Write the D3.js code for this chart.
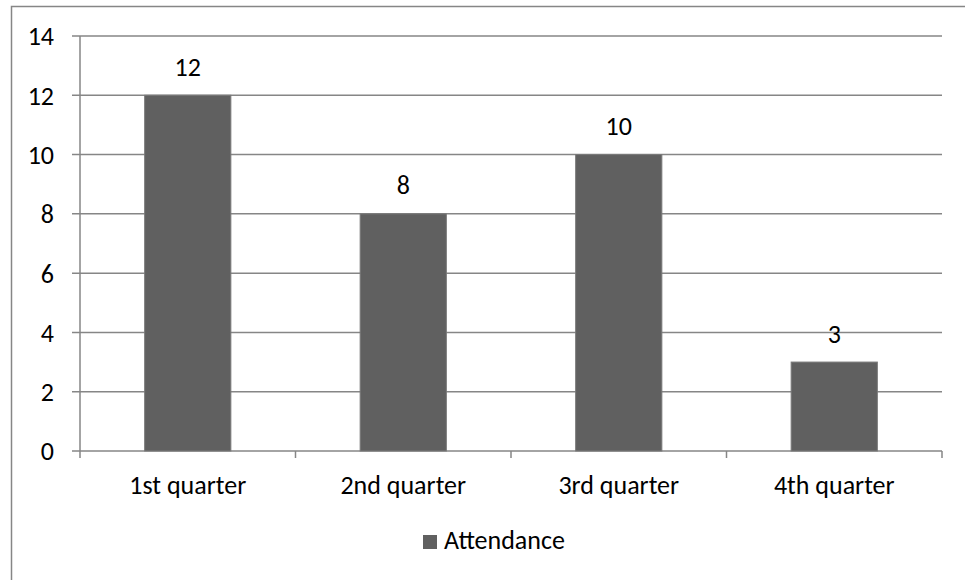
<!DOCTYPE html>
<html>
<head>
<meta charset="utf-8">
<script src="https://cdn.jsdelivr.net/npm/d3@7"></script>
<style>
  body { margin: 0; background: #fff; }
  text { font-family: Carlito, Calibri, "Open Sans", sans-serif; fill: #000; }
</style>
</head>
<body>
<script>
// chart data
const categories = ['1st quarter', '2nd quarter', '3rd quarter', '4th quarter']
const attendance = [12, 8, 10, 3]
const yTicks = [0, 2, 4, 6, 8, 10, 12, 14]
const seriesName = 'Attendance'

const fullWidth = 965
const fullHeight = 580
const margin = { top: 36, right: 23, bottom: 129, left: 80 }
const width = fullWidth - margin.left - margin.right
const height = fullHeight - margin.top - margin.bottom
const gridColor = '#868686'
const barColor = '#606060'
const fontSize = 26

const svg = d3.select('body')
  .append('svg')
  .attr('width', fullWidth)
  .attr('height', fullHeight)

// outer chart border
svg.append('rect')
  .attr('x', 11.5)
  .attr('y', 6.5)
  .attr('width', fullWidth + 20)
  .attr('height', fullHeight + 20)
  .attr('fill', 'none')
  .attr('stroke', gridColor)
  .attr('stroke-width', 1.5)

const g = svg.append('g')
  .attr('transform', `translate(${margin.left},${margin.top})`)

const x = d3.scaleBand()
  .domain(categories)
  .range([0, width])
  .paddingInner(0.6)
  .paddingOuter(0.3)

const xOuter = d3.scaleBand()
  .domain(categories)
  .range([0, width])

const y = d3.scaleLinear()
  .domain([0, 14])
  .range([height, 0])

// gridlines
g.selectAll('.grid')
  .data(yTicks)
  .enter().append('line')
  .attr('class', 'grid')
  .attr('x1', -8)
  .attr('x2', width)
  .attr('y1', d => y(d))
  .attr('y2', d => y(d))
  .attr('stroke', gridColor)
  .attr('stroke-width', 1.5)

// y axis line
g.append('line')
  .attr('x1', 0).attr('x2', 0)
  .attr('y1', 0).attr('y2', height)
  .attr('stroke', gridColor)
  .attr('stroke-width', 1.5)

// y tick labels
g.selectAll('.ylab')
  .data(yTicks)
  .enter().append('text')
  .attr('class', 'ylab')
  .attr('x', -26)
  .attr('y', d => y(d))
  .attr('dy', '0.36em')
  .attr('text-anchor', 'end')
  .attr('font-size', fontSize)
  .text(d => d)

// x axis ticks at category boundaries
const bounds = categories.map(c => xOuter(c)).concat([width])
g.selectAll('.xtick')
  .data(bounds)
  .enter().append('line')
  .attr('class', 'xtick')
  .attr('x1', d => d).attr('x2', d => d)
  .attr('y1', height).attr('y2', height + 7)
  .attr('stroke', gridColor)
  .attr('stroke-width', 1.5)

// bars
g.selectAll('.bar')
  .data(attendance)
  .enter().append('rect')
  .attr('class', 'bar')
  .attr('x', (d, i) => x(categories[i]))
  .attr('y', d => y(d))
  .attr('width', x.bandwidth())
  .attr('height', d => height - y(d))
  .attr('fill', barColor)
  .attr('stroke', '#7a7a7a')
  .attr('stroke-width', 1)

// value labels
g.selectAll('.val')
  .data(attendance)
  .enter().append('text')
  .attr('class', 'val')
  .attr('x', (d, i) => x(categories[i]) + x.bandwidth() / 2)
  .attr('y', d => y(d) - 19.5)
  .attr('text-anchor', 'middle')
  .attr('font-size', fontSize)
  .text(d => d)

// category labels
g.selectAll('.xlab')
  .data(categories)
  .enter().append('text')
  .attr('class', 'xlab')
  .attr('x', d => xOuter(d) + xOuter.bandwidth() / 2)
  .attr('y', height + 43)
  .attr('text-anchor', 'middle')
  .attr('font-size', fontSize)
  .text(d => d)

// legend
const legend = svg.append('g')
  .attr('transform', 'translate(423,535)')

legend.append('rect')
  .attr('width', 14)
  .attr('height', 14)
  .attr('fill', barColor)

legend.append('text')
  .attr('x', 21)
  .attr('y', 14)
  .attr('font-size', fontSize)
  .text(seriesName)
</script>
</body>
</html>
